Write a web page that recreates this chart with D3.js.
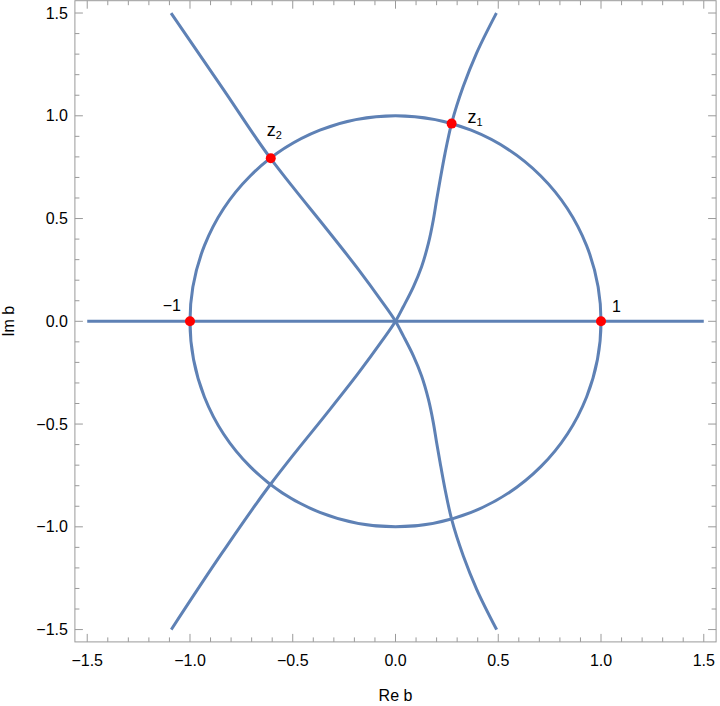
<!DOCTYPE html>
<html>
<head>
<meta charset="utf-8">
<script src="https://cdn.jsdelivr.net/npm/d3@7"></script>
<style>
  body { margin: 0; background: #fff; }
  svg { display: block; font-family: 'Liberation Sans', Arial, sans-serif; }
  .tick-label { font-size: 16px; fill: #000; }
  .axis-label { font-size: 16px; fill: #000; }
  .pt-label { font-size: 16px; fill: #000; }
</style>
</head>
<body>
<div class="wrapper"></div>
<script>
// curve through z2: from top-left to bottom-right
const curveAx = [-1.092, -0.836, -0.608, -0.501, -0.344, -0.179, -0.072, 0, 0.038, 0.087, 0.127, 0.160, 0.184, 0.200, 0.217, 0.241, 0.273, 0.330, 0.395, 0.492]
const curveAy = [1.5, 1.126, 0.793, 0.655, 0.460, 0.250, 0.104, 0, -0.071, -0.168, -0.266, -0.379, -0.493, -0.590, -0.687, -0.817, -0.963, -1.142, -1.304, -1.5]

// curve through z1: from bottom-left to top-right
const curveBx = [-1.091, -0.843, -0.608, -0.501, -0.344, -0.179, -0.072, 0, 0.038, 0.087, 0.127, 0.160, 0.184, 0.200, 0.217, 0.241, 0.273, 0.329, 0.394, 0.491]
const curveBy = [-1.5, -1.126, -0.793, -0.655, -0.460, -0.250, -0.104, 0, 0.071, 0.168, 0.266, 0.379, 0.493, 0.590, 0.687, 0.817, 0.963, 1.141, 1.304, 1.5]

// real axis segment
const realX = [-1.5, 1.5]
const realY = [0, 0]

// unit circle
const circleCenter = [0, 0]
const circleRadius = 1

// marked points
const pointNames = ['1', '−1', 'z1', 'z2']
const pointRe = [1, -1, 0.273, -0.607]
const pointIm = [0, 0, 0.962, 0.793]

// ticks
const majorTicks = [-1.5, -1.0, -0.5, 0.0, 0.5, 1.0, 1.5]
const minorTicks = d3.range(-15, 16).map(d => d / 10)

const width = 720,
  height = 706

const x = d3.scaleLinear().domain([-1.56, 1.56]).range([74.9, 716.1])
const y = d3.scaleLinear().domain([-1.56, 1.56]).range([641.9, 0.7])

const svg = d3.select('.wrapper')
  .append('svg')
  .attr('width', width)
  .attr('height', height)

const blue = '#5e81b5'
const frameColor = '#9a9a9a'

const line = d3.line()
  .x(d => x(d[0]))
  .y(d => y(d[1]))
  .curve(d3.curveMonotoneY)

const zip = (a, b) => a.map((v, i) => [v, b[i]])

const curves = svg.append('g')
  .attr('fill', 'none')
  .attr('stroke', blue)
  .attr('stroke-width', 3)

curves.append('circle')
  .attr('cx', x(circleCenter[0]))
  .attr('cy', y(circleCenter[1]))
  .attr('r', x(circleRadius) - x(0))

// monotoneY needs points sorted by y
curves.selectAll('path')
  .data([zip(realX, realY), zip(curveAx, curveAy).reverse(), zip(curveBx, curveBy)])
  .enter().append('path')
  .attr('d', (d, i) => i === 0 ? d3.line().x(p => x(p[0])).y(p => y(p[1]))(d) : line(d))

// frame and ticks
const frame = svg.append('g')
  .attr('stroke', frameColor)
  .attr('stroke-width', 1)

frame.append('rect')
  .attr('x', x.range()[0])
  .attr('y', y.range()[1])
  .attr('width', x.range()[1] - x.range()[0])
  .attr('height', y.range()[0] - y.range()[1])
  .attr('fill', 'none')

const isMajor = v => majorTicks.some(m => Math.abs(m - v) < 1e-9)
const tickLen = v => isMajor(v) ? 8 : 4.5

const [x0, x1] = x.range()
const [y0, y1] = [y.range()[1], y.range()[0]]

minorTicks.forEach(v => {
  const px = x(v), py = y(v), l = tickLen(v)
  frame.append('line').attr('x1', px).attr('x2', px).attr('y1', y1).attr('y2', y1 - l)
  frame.append('line').attr('x1', px).attr('x2', px).attr('y1', y0).attr('y2', y0 + l)
  frame.append('line').attr('y1', py).attr('y2', py).attr('x1', x0).attr('x2', x0 + l)
  frame.append('line').attr('y1', py).attr('y2', py).attr('x1', x1).attr('x2', x1 - l)
})

const fmt = d3.format('.1f')

svg.append('g').selectAll('text')
  .data(majorTicks)
  .enter().append('text')
  .attr('class', 'tick-label')
  .attr('x', d => x(d))
  .attr('y', y1 + 24)
  .attr('text-anchor', 'middle')
  .text(fmt)

svg.append('g').selectAll('text')
  .data(majorTicks)
  .enter().append('text')
  .attr('class', 'tick-label')
  .attr('x', x0 - 7)
  .attr('y', d => y(d))
  .attr('dy', '0.35em')
  .attr('text-anchor', 'end')
  .text(fmt)

svg.append('text')
  .attr('class', 'axis-label')
  .attr('x', x(0))
  .attr('y', 701)
  .attr('text-anchor', 'middle')
  .text('Re b')

svg.append('text')
  .attr('class', 'axis-label')
  .attr('transform', `translate(14, ${y(0)}) rotate(-90)`)
  .attr('text-anchor', 'middle')
  .text('Im b')

// points
const pts = pointNames.map((n, i) => ({ name: n, re: pointRe[i], im: pointIm[i] }))

svg.append('g').selectAll('circle')
  .data(pts)
  .enter().append('circle')
  .attr('cx', d => x(d.re))
  .attr('cy', d => y(d.im))
  .attr('r', 5)
  .attr('fill', '#ff0000')

const labelOffset = {
  '1': [11, -9, 'start'],
  '−1': [-9, -10, 'end'],
  'z1': [16, -1, 'start'],
  'z2': [-4, -22, 'start']
}

const labels = svg.append('g').selectAll('text')
  .data(pts)
  .enter().append('text')
  .attr('class', 'pt-label')
  .attr('x', d => x(d.re) + labelOffset[d.name][0])
  .attr('y', d => y(d.im) + labelOffset[d.name][1])
  .attr('text-anchor', d => labelOffset[d.name][2])

labels.each(function (d) {
  const t = d3.select(this)
  if (d.name.startsWith('z')) {
    t.append('tspan').attr('font-size', '18px').text('z')
    t.append('tspan').attr('font-size', '11px').attr('dy', 3).text(d.name.slice(1))
  } else {
    t.text(d.name)
  }
})
</script>
</body>
</html>
